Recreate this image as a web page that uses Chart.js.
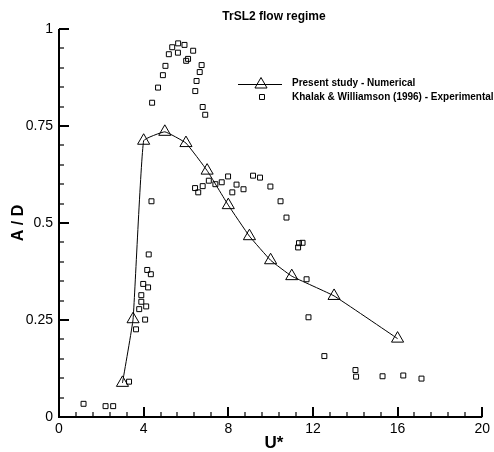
<!DOCTYPE html>
<html>
<head>
<meta charset="utf-8">
<script src="https://cdn.jsdelivr.net/npm/chart.js@4/dist/chart.umd.min.js"></script>
<style>
html,body{margin:0;padding:0;background:#fff;}
#wrap{width:494px;height:452px;}
</style>
</head>
<body>
<div id="wrap"><canvas id="c" width="494" height="452"></canvas></div>
<script>
// Present study - Numerical
const uStarNum = [3, 3.5, 4, 5, 6, 7, 8, 9, 10, 11, 13, 16];
const adNum = [0.088, 0.252, 0.712, 0.735, 0.706, 0.635, 0.546, 0.466, 0.404, 0.363, 0.312, 0.202];
// Khalak & Williamson (1996) - Experimental
const uStarExp = [1.16, 2.20, 2.56, 3.31, 3.64, 4.07, 3.79, 4.12, 3.89, 3.89, 4.21, 3.98, 4.34, 4.17, 4.24, 4.37,
  4.40, 4.68, 4.91, 5.03, 5.19, 5.35, 5.62, 5.63, 5.93, 6.01, 6.10, 6.34, 6.44, 6.50, 6.65, 6.74, 6.79, 6.91,
  6.43, 6.58, 6.79, 7.08, 7.39, 7.69, 7.99, 8.19, 8.39, 8.72, 9.17, 9.50, 9.99, 10.47, 10.75, 11.30, 11.34, 11.51,
  11.70, 11.79, 12.54, 14.01, 14.04, 15.29, 16.27, 17.13];
const adExp = [0.034, 0.028, 0.028, 0.091, 0.226, 0.251, 0.278, 0.285, 0.297, 0.314, 0.334, 0.343, 0.368, 0.379, 0.419, 0.556,
  0.810, 0.849, 0.881, 0.905, 0.935, 0.953, 0.939, 0.963, 0.959, 0.918, 0.923, 0.944, 0.840, 0.866, 0.889, 0.907, 0.799, 0.779,
  0.590, 0.579, 0.595, 0.609, 0.600, 0.605, 0.620, 0.579, 0.599, 0.587, 0.622, 0.617, 0.594, 0.556, 0.514, 0.437, 0.448, 0.449,
  0.355, 0.257, 0.157, 0.121, 0.104, 0.105, 0.107, 0.099];
const xTicks = [0, 4, 8, 12, 16, 20];
const yTicks = [0, 0.25, 0.5, 0.75, 1];
const yTickLabels = ['0', '0.25', '0.5', '0.75', '1'];
const titleText = 'TrSL2 flow regime';
const xTitle = 'U*';
const yTitle = 'A / D';
const legendNum = 'Present study - Numerical';
const legendExp = 'Khalak & Williamson (1996) - Experimental';

const FONT = '"Liberation Sans", Arial, Helvetica, sans-serif';

const numData = uStarNum.map((x, i) => ({x: x, y: adNum[i]}));
const expData = uStarExp.map((x, i) => ({x: x, y: adExp[i]}));

const decor = {
  id: 'decor',
  afterDraw(chart) {
    const ctx = chart.ctx;
    const xs = chart.scales.x, ys = chart.scales.y;
    const L = xs.left, R = xs.right, T = ys.top, B = ys.bottom;
    ctx.save();
    ctx.strokeStyle = '#000';
    ctx.fillStyle = '#000';
    // axis lines
    ctx.lineWidth = 2;
    ctx.beginPath();
    ctx.moveTo(L, T); ctx.lineTo(L, B); ctx.lineTo(R, B);
    ctx.stroke();
    // x ticks (inward)
    for (let v = 0; v <= 20.0001; v += 0.8) {
      const px = Math.round(xs.getPixelForValue(v));
      const major = xTicks.some(t => Math.abs(t - v) < 1e-6);
      ctx.lineWidth = major ? 2 : 1.2;
      ctx.beginPath();
      ctx.moveTo(px, B);
      ctx.lineTo(px, B - (major ? 10 : 5));
      ctx.stroke();
    }
    for (let v = 0; v <= 1.0001; v += 0.05) {
      const py = Math.round(ys.getPixelForValue(v));
      const major = yTicks.some(t => Math.abs(t - v) < 1e-6);
      ctx.lineWidth = major ? 2 : 1.2;
      ctx.beginPath();
      ctx.moveTo(L, py);
      ctx.lineTo(L + (major ? 10 : 5), py);
      ctx.stroke();
    }
    // title
    ctx.font = 'bold 12px ' + FONT;
    ctx.textAlign = 'center';
    ctx.textBaseline = 'middle';
    ctx.fillText(titleText, 274, 17);
    // axis titles
    ctx.font = 'bold 17px ' + FONT;
    ctx.fillText(xTitle, 274, 443);
    ctx.save();
    ctx.translate(19, 223);
    ctx.rotate(-Math.PI / 2);
    ctx.font = 'bold 16px ' + FONT;
    ctx.fillText(yTitle, 0, 0);
    ctx.restore();
    // legend
    ctx.lineWidth = 1;
    ctx.beginPath();
    ctx.moveTo(238, 84.5); ctx.lineTo(282, 84.5);
    ctx.stroke();
    ctx.fillStyle = 'rgba(0,0,0,0)';
    Chart.helpers.drawPoint(ctx, {pointStyle: 'triangle', radius: 7, borderWidth: 1}, 261, 84.5);
    Chart.helpers.drawPoint(ctx, {pointStyle: 'rect', radius: 3.5, borderWidth: 1}, 262, 97);
    ctx.fillStyle = '#000';
    ctx.font = 'bold 10px ' + FONT;
    ctx.textAlign = 'left';
    ctx.fillText(legendNum, 292, 83);
    ctx.fillText(legendExp, 292, 97);
    ctx.restore();
  }
};

new Chart(document.getElementById('c'), {
  type: 'scatter',
  data: {
    datasets: [
      {
        label: legendNum,
        data: numData,
        showLine: true,
        borderColor: '#000',
        borderWidth: 1,
        tension: 0.1,
        pointStyle: 'triangle',
        pointRadius: 7,
        pointBorderWidth: 1,
        pointBorderColor: '#000',
        pointBackgroundColor: 'rgba(0,0,0,0)'
      },
      {
        label: legendExp,
        data: expData,
        showLine: false,
        pointStyle: 'rect',
        pointRadius: 3.5,
        pointBorderWidth: 1,
        pointBorderColor: '#000',
        pointBackgroundColor: 'rgba(0,0,0,0)'
      }
    ]
  },
  options: {
    responsive: false,
    animation: false,
    layout: {padding: {left: 0, right: 8, top: 29, bottom: 0}},
    plugins: {legend: {display: false}, title: {display: false}, tooltip: {enabled: false}},
    scales: {
      x: {
        type: 'linear', min: 0, max: 20,
        afterFit(s) { s.height = 35; },
        afterBuildTicks(s) { s.ticks = xTicks.map(v => ({value: v})); },
        grid: {display: false, drawTicks: false},
        border: {display: false},
        ticks: {color: '#000', font: {family: FONT, size: 14}, padding: 4, maxRotation: 0,
          callback: v => String(v)}
      },
      y: {
        type: 'linear', min: 0, max: 1,
        afterFit(s) { s.width = 59; },
        afterBuildTicks(s) { s.ticks = yTicks.map(v => ({value: v})); },
        grid: {display: false, drawTicks: false},
        border: {display: false},
        ticks: {color: '#000', font: {family: FONT, size: 14}, padding: 6,
          callback: v => yTickLabels[yTicks.indexOf(v)]}
      }
    }
  },
  plugins: [decor]
});
</script>
</body>
</html>
